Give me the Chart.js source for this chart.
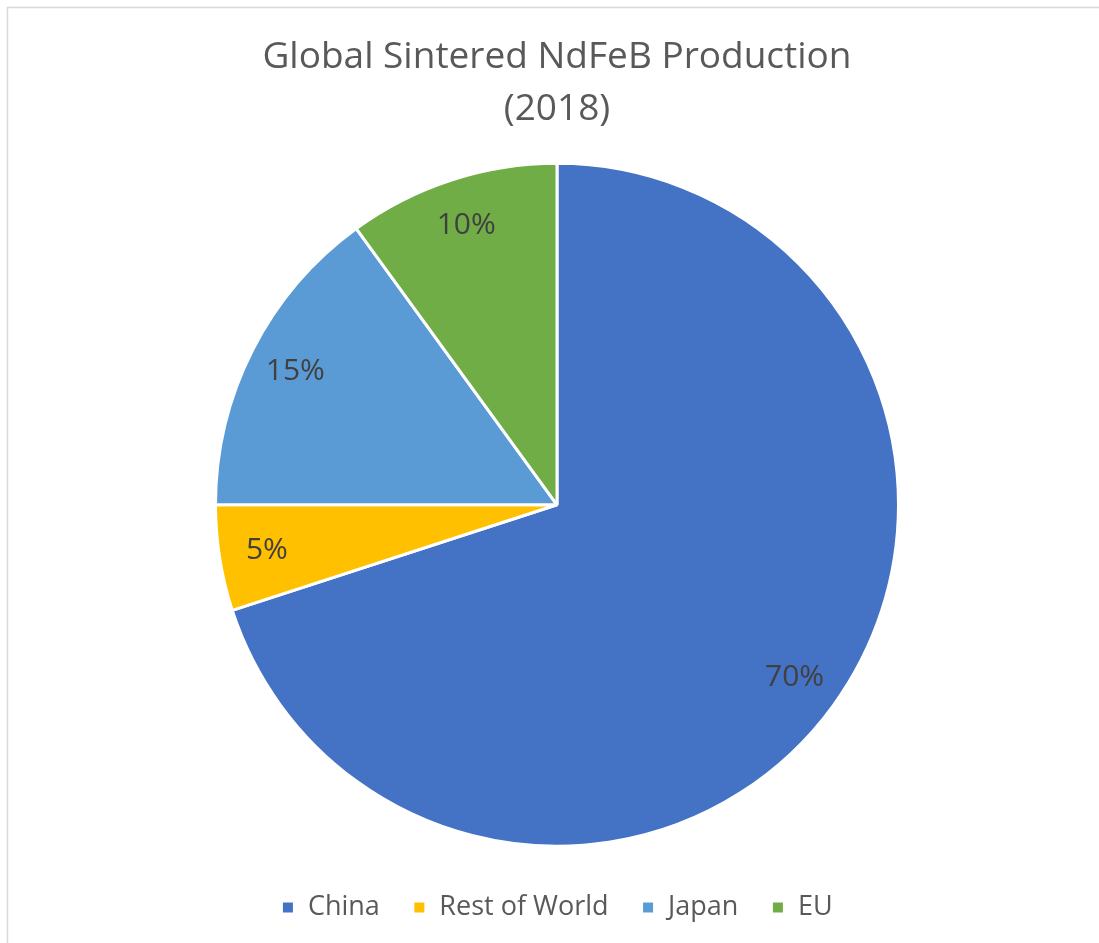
<!DOCTYPE html>
<html>
<head>
<meta charset="utf-8">
<script src="https://cdn.jsdelivr.net/npm/chart.js@4"></script>
<style>
  html, body { margin: 0; padding: 0; background: #fff; }
  #wrap { width: 1099px; height: 943px; }
</style>
</head>
<body>
<div id="wrap"><canvas id="pie" width="1099" height="943"></canvas></div>
<script>
// data
const regions = ["China", "Rest of World", "Japan", "EU"];
const shares = [70, 5, 15, 10];
const sliceColors = ["#4472C4", "#FFC000", "#5B9BD5", "#70AD47"];
const titleLines = ["Global Sintered NdFeB Production", "(2018)"];

const FONT = "'Open Sans', 'Noto Sans', sans-serif";

// thin grey frame like the excel chart area (top + left only visible)
const framePlugin = {
  id: "frame",
  beforeDraw(chart) {
    const ctx = chart.ctx;
    ctx.save();
    ctx.fillStyle = "#fff";
    ctx.fillRect(0, 0, chart.width, chart.height);
    ctx.strokeStyle = "#d9d9d9";
    ctx.lineWidth = 1.5;
    ctx.beginPath();
    ctx.moveTo(7.5, chart.height);
    ctx.lineTo(7.5, 7.5);
    ctx.lineTo(chart.width, 7.5);
    ctx.stroke();
    ctx.restore();
  }
};

// percent labels inside the slices
const sliceLabels = {
  id: "sliceLabels",
  afterDatasetsDraw(chart) {
    const ctx = chart.ctx;
    const meta = chart.getDatasetMeta(0);
    const total = shares.reduce((a, b) => a + b, 0);
    ctx.save();
    ctx.font = "30px " + FONT;
    ctx.fillStyle = "#404040";
    ctx.textAlign = "center";
    ctx.textBaseline = "middle";
    meta.data.forEach((arc, i) => {
      const p = arc.getProps(["x", "y", "startAngle", "endAngle", "outerRadius"], true);
      const mid = (p.startAngle + p.endAngle) / 2;
      const r = p.outerRadius * 0.86;
      const pct = Math.round(shares[i] / total * 100) + "%";
      ctx.fillText(pct, p.x + Math.cos(mid) * r, p.y + Math.sin(mid) * r);
    });
    ctx.restore();
  }
};

new Chart(document.getElementById("pie"), {
  type: "pie",
  data: {
    labels: regions,
    datasets: [{
      data: shares,
      backgroundColor: sliceColors,
      borderColor: "#fff",
      borderWidth: 3,
      hoverOffset: 0
    }]
  },
  options: {
    responsive: false,
    animation: false,
    layout: { padding: { left: 214, right: 199, top: 0, bottom: 12 } },
    plugins: {
      title: {
        display: true,
        text: titleLines,
        color: "#595959",
        font: { family: FONT, size: 37, weight: "normal", lineHeight: 1.4 },
        padding: { top: 32, bottom: 13 }
      },
      legend: {
        position: "bottom",
        labels: {
          color: "#595959",
          font: { family: FONT, size: 27 },
          boxWidth: 13,
          boxHeight: 13,
          padding: 33
        }
      },
      tooltip: { enabled: false }
    }
  },
  plugins: [framePlugin, sliceLabels]
});
</script>
</body>
</html>
